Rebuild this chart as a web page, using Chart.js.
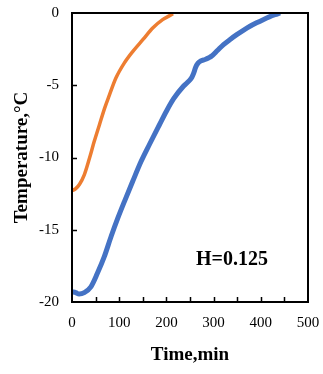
<!DOCTYPE html>
<html>
<head>
<meta charset="utf-8">
<script src="https://cdn.jsdelivr.net/npm/chart.js@4/dist/chart.umd.min.js"></script>
<style>
  html, body { margin: 0; padding: 0; background: #fff; }
  #wrap { width: 323px; height: 374px; }
</style>
</head>
<body>
<div id="wrap"><canvas id="chart1"></canvas></div>
<script>
// orange curve (time in min, temperature in degC)
var orangeTime = [0, 8, 16, 26, 37, 47, 58, 69, 79, 93, 111, 129, 150, 171, 192, 206, 214];
var orangeTemp = [-12.3, -12.15, -11.85, -11.2, -10.05, -8.9, -7.75, -6.6, -5.7, -4.5, -3.45, -2.65, -1.85, -1.04, -0.46, -0.2, -0.05];

// blue curve
var blueTime = [0, 8, 15, 26, 40, 54, 68, 83, 97, 111, 128, 146, 164, 185, 200, 215, 236, 248, 254, 258, 262, 267, 274, 282, 290, 296, 308, 321, 335, 349, 363, 377, 391, 405, 418, 430, 441];
var blueTemp = [-19.3, -19.35, -19.45, -19.35, -18.95, -18.0, -16.9, -15.45, -14.2, -13.05, -11.7, -10.3, -9.1, -7.75, -6.8, -5.95, -5.07, -4.7, -4.45, -4.15, -3.75, -3.47, -3.3, -3.22, -3.1, -2.98, -2.6, -2.19, -1.83, -1.5, -1.2, -0.92, -0.68, -0.46, -0.27, -0.12, 0];

var xTicks = [0, 100, 200, 300, 400, 500];
var yTicks = [-20, -15, -10, -5, 0];
var note = "H=0.125";
var notePos = [339, -17.1];

function toPoints(xs, ys) {
    return xs.map(function (x, i) { return { x: x, y: ys[i] }; });
}

function noPadding(scale) {
    scale.paddingLeft = 0;
    scale.paddingRight = 0;
    scale.paddingTop = 0;
    scale.paddingBottom = 0;
}

// frame, inward ticks and the label inside the plot
var framePlugin = {
    id: "frame",
    afterDatasetsDraw: function (chart) {
        var ctx = chart.ctx;
        var a = chart.chartArea;
        var xs = chart.scales.x, ys = chart.scales.y;
        ctx.save();
        ctx.strokeStyle = "#000";
        ctx.lineWidth = 2;
        ctx.strokeRect(a.left, a.top, a.right - a.left, a.bottom - a.top);
        ctx.lineWidth = 1.5;
        ctx.beginPath();
        for (var v = 50; v < 500; v += 50) {
            var px = Math.round(xs.getPixelForValue(v)) + 0.5;
            ctx.moveTo(px, a.bottom);
            ctx.lineTo(px, a.bottom - 5);
        }
        for (var k = 1; k < yTicks.length - 1; k++) {
            var py = Math.round(ys.getPixelForValue(yTicks[k])) + 0.5;
            ctx.moveTo(a.left, py);
            ctx.lineTo(a.left + 5, py);
        }
        ctx.stroke();
        ctx.fillStyle = "#000";
        ctx.font = "bold 20px 'Liberation Serif'";
        ctx.textAlign = "center";
        ctx.textBaseline = "middle";
        ctx.fillText(note, xs.getPixelForValue(notePos[0]), ys.getPixelForValue(notePos[1]));
        ctx.restore();
    }
};

var ctx1 = document.getElementById("chart1").getContext("2d");
new Chart(ctx1, {
    type: "line",
    data: {
        datasets: [
            {
                label: "Orange",
                data: toPoints(orangeTime, orangeTemp),
                borderColor: "#ED7D31",
                borderWidth: 3.5,
                pointRadius: 0,
                fill: false,
                cubicInterpolationMode: "monotone"
            },
            {
                label: "Blue",
                data: toPoints(blueTime, blueTemp),
                borderColor: "#4472C4",
                borderWidth: 5,
                pointRadius: 0,
                fill: false,
                cubicInterpolationMode: "monotone"
            }
        ]
    },
    options: {
        responsive: true,
        maintainAspectRatio: false,
        animation: false,
        layout: { padding: { top: 13, right: 15, bottom: 8, left: 11 } },
        plugins: {
            legend: { display: false },
            tooltip: { enabled: false }
        },
        scales: {
            x: {
                type: "linear",
                min: 0,
                max: 500,
                afterBuildTicks: function (scale) {
                    scale.ticks = xTicks.map(function (v) { return { value: v }; });
                },
                afterFit: function (scale) { scale.height = 64; noPadding(scale); },
                grid: { display: false, drawTicks: false },
                border: { display: false },
                ticks: {
                    padding: 12,
                    color: "#000",
                    maxRotation: 0,
                    font: { family: "'Liberation Serif'", size: 15 }
                },
                title: {
                    display: true,
                    text: "Time,min",
                    color: "#000",
                    padding: 0,
                    font: { family: "'Liberation Serif'", size: 19, weight: "bold" }
                }
            },
            y: {
                type: "linear",
                min: -20,
                max: 0,
                afterBuildTicks: function (scale) {
                    scale.ticks = yTicks.map(function (v) { return { value: v }; });
                },
                afterFit: function (scale) { scale.width = 61; noPadding(scale); },
                grid: { display: false, drawTicks: false },
                border: { display: false },
                ticks: {
                    padding: 13,
                    color: "#000",
                    font: { family: "'Liberation Serif'", size: 15 }
                },
                title: {
                    display: true,
                    text: "Temperature,\u00B0C",
                    color: "#000",
                    padding: 0,
                    font: { family: "'Liberation Serif'", size: 19, weight: "bold" }
                }
            }
        }
    },
    plugins: [framePlugin]
});
</script>
</body>
</html>
